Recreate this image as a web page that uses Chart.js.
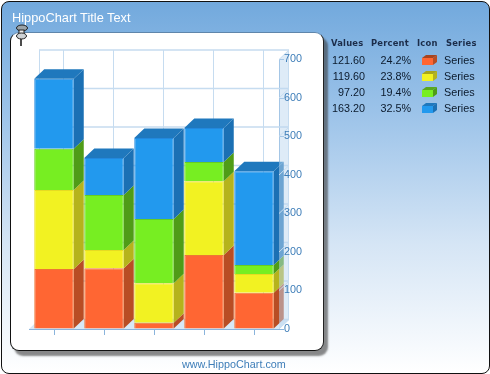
<!DOCTYPE html>
<html>
<head>
<meta charset="utf-8">
<script src="https://cdn.jsdelivr.net/npm/chart.js@4"></script>
<style>
  html, body { margin: 0; padding: 0; background: #fff; overflow: hidden; }
  #page {
    position: absolute; left: 1px; top: 1px; width: 487px; height: 371px;
    border: 1px solid #111; border-radius: 8px;
    background: linear-gradient(to bottom, #72a9dd 0%, #9cc3e9 30%, #d5e5f5 65%, #ffffff 100%);
  }
  #panel {
    position: absolute; left: 10px; top: 32px; width: 312px; height: 317px;
    background: #fff; border: 1px solid #111; border-top-color: #5f86ab; border-right-color: #222;
    border-radius: 9px; box-shadow: 4px 5px 2px rgba(60,60,60,.6);
  }
  canvas { position: absolute; left: 0; top: 0; }
  .txt { position: absolute; font-family: "Liberation Sans", sans-serif; white-space: nowrap; line-height: 14px; }
  #title { left: 12px; top: 11px; font-size: 12.8px; color: #fff; }
  #footer { left: 182px; top: 357px; font-size: 10.8px; color: #3d7db8; }
  .head { font-family: "DejaVu Sans", sans-serif; font-size: 8.4px; font-weight: bold; color: #1c2d4a; letter-spacing: .2px; }
  .row { font-size: 10.8px; color: #0b1a2c; }
  #pin { position: absolute; left: 13px; top: 24px; }
</style>
</head>
<body>
<div id="page"></div>
<div id="panel"></div>
<canvas id="chart" width="490" height="374"></canvas>
<svg id="pin" width="16" height="24" viewBox="0 0 16 24">
  <line x1="8" y1="14" x2="8" y2="22" stroke="#111" stroke-width="1.5"/>
  <ellipse cx="9" cy="4" rx="5.5" ry="3" fill="#9aa3a8" stroke="#222"/>
  <rect x="6" y="6" width="5" height="5" fill="#eee" stroke="#222"/>
  <ellipse cx="8.5" cy="12" rx="5" ry="3" fill="#cfd3d6" stroke="#222"/>
</svg>
<div class="txt" id="title">HippoChart Title Text</div>
<div class="txt" id="footer">www.HippoChart.com</div>
<div id="legend"></div>
<script>
const categories = ['1', '2', '3', '4', '5'];
const seriesNames = ['Series', 'Series', 'Series', 'Series'];

const orangeValues = [156, 158, 16, 192, 94];
const yellowValues = [205, 47, 103, 192, 49];
const greenValues = [107, 143, 167, 50, 23];
const blueValues = [182, 96, 210, 88, 244];

const legendHeads = ['Values', 'Percent', 'Icon', 'Series'];
const legendValues = ['121.60', '119.60', '97.20', '163.20'];
const legendPercents = ['24.2%', '23.8%', '19.4%', '32.5%'];

const frontColors = ['#ff6633', '#f2f222', '#77ee22', '#2299ee'];
const sideColors = ['#b84d24', '#b5b31c', '#4f9c17', '#1b70b4'];
const topColors = ['#a8441f', '#a8a61a', '#5aa81c', '#1f78bd'];
const edgeColors = ['#ee7733', '#e6dc22', '#66cc22', '#2288dd'];

const depthX = 10;
const depthY = 9.5;
const wallLine = '#c6dcf0';
const axisColor = '#8ab4dc';

function poly(ctx, pts, fill) {
  ctx.beginPath();
  pts.forEach((p, i) => i ? ctx.lineTo(p[0], p[1]) : ctx.moveTo(p[0], p[1]));
  ctx.closePath();
  ctx.fillStyle = fill;
  ctx.fill();
}

// Mur du fond, sol et grille décalés en profondeur
const wallsPlugin = {
  id: 'walls',
  beforeDatasetsDraw(chart) {
    const ctx = chart.ctx;
    const { x, y } = chart.scales;
    const left = x.left, right = x.right, bottom = y.getPixelForValue(0), top = y.getPixelForValue(700);
    ctx.save();
    poly(ctx, [[left, bottom], [right, bottom], [right + depthX, bottom - depthY], [left + depthX, bottom - depthY]], '#d8e8f6');
    ctx.strokeStyle = wallLine;
    ctx.lineWidth = 1;
    ctx.beginPath();
    ctx.moveTo(Math.round(left + depthX) + .5, top - depthY);
    ctx.lineTo(Math.round(left + depthX) + .5, bottom - depthY);
    categories.forEach((c, i) => {
      const px = Math.round(x.getPixelForValue(i) + depthX) - .5;
      ctx.moveTo(px, top - depthY);
      ctx.lineTo(px, bottom - depthY);
    });
    ctx.stroke();
    ctx.lineWidth = 1.5;
    ctx.beginPath();
    y.ticks.forEach(t => {
      const py = y.getPixelForValue(t.value) - depthY;
      ctx.moveTo(left + depthX, py);
      ctx.lineTo(right + depthX, py);
    });
    ctx.stroke();

    // Faces latérales et dessus des barres
    const metas = chart.getSortedVisibleDatasetMetas();
    categories.forEach((c, i) => {
      metas.forEach((meta, s) => {
        const bar = meta.data[i];
        const r = bar.x + bar.width / 2;
        poly(ctx, [[r, bar.y], [r + depthX, bar.y - depthY], [r + depthX, bar.base - depthY], [r, bar.base]], sideColors[s]);
      });
      const last = metas.length - 1;
      const bar = metas[last].data[i];
      const l = bar.x - bar.width / 2, r = bar.x + bar.width / 2;
      poly(ctx, [[l, bar.y], [r, bar.y], [r + depthX, bar.y - depthY], [l + depthX, bar.y - depthY]], topColors[last]);
    });
    ctx.restore();
  },
  afterDatasetsDraw(chart) {
    // Mur de droite translucide, par-dessus les barres
    const ctx = chart.ctx;
    const { x, y } = chart.scales;
    const right = x.right, bottom = y.getPixelForValue(0), top = y.getPixelForValue(700);
    ctx.save();
    poly(ctx, [[right, bottom], [right + depthX, bottom - depthY], [right + depthX, top - depthY], [right, top]], 'rgba(190,215,240,.5)');
    ctx.strokeStyle = wallLine;
    ctx.lineWidth = 1;
    ctx.beginPath();
    y.ticks.forEach(t => {
      const py = y.getPixelForValue(t.value);
      ctx.moveTo(right, py);
      ctx.lineTo(right + depthX, py - depthY);
    });
    ctx.moveTo(right + depthX - .5, top - depthY);
    ctx.lineTo(right + depthX - .5, bottom - depthY);
    ctx.stroke();

    // Icônes de la légende
    const iconRows = [60, 76, 92, 108];
    iconRows.forEach((cy, s) => {
      poly(ctx, [[422, cy - 2], [433, cy - 2], [433, cy + 5], [422, cy + 5]], frontColors[s]);
      poly(ctx, [[433, cy - 2], [437, cy - 5], [437, cy + 2], [433, cy + 5]], sideColors[s]);
      poly(ctx, [[422, cy - 2], [426, cy - 5], [437, cy - 5], [433, cy - 2]], topColors[s]);
    });
    ctx.restore();
  }
};

const datasets = [orangeValues, yellowValues, greenValues, blueValues].map((values, s) => ({
  label: seriesNames[s],
  data: values,
  backgroundColor: frontColors[s],
  borderColor: edgeColors[s],
  borderWidth: 1,
  barPercentage: 0.79,
  categoryPercentage: 1
}));

new Chart(document.getElementById('chart'), {
  type: 'bar',
  data: { labels: categories, datasets: datasets },
  plugins: [wallsPlugin],
  options: {
    responsive: false,
    animation: false,
    layout: { padding: { left: 29, top: 59.5, right: 181, bottom: 39 } },
    plugins: { legend: { display: false }, title: { display: false }, tooltip: { enabled: false } },
    scales: {
      x: {
        stacked: true,
        afterFit: s => { s.height = 6; },
        ticks: { display: false },
        grid: { offset: false, drawOnChartArea: false, color: axisColor, tickLength: 6 },
        border: { color: axisColor }
      },
      y: {
        stacked: true,
        position: 'right',
        min: 0,
        max: 700,
        afterFit: s => { s.width = 30; },
        ticks: {
          stepSize: 100,
          padding: 0,
          z: 1,
          color: '#3d7db8',
          font: { family: 'Liberation Sans', size: 10.8 }
        },
        grid: { drawOnChartArea: false, color: axisColor, tickLength: 5 },
        border: { color: axisColor }
      }
    }
  }
});

// Légende en texte HTML
const legend = document.getElementById('legend');
function addText(cls, text, style) {
  const el = document.createElement('div');
  el.className = 'txt ' + cls;
  el.textContent = text;
  Object.assign(el.style, style);
  legend.appendChild(el);
}
const headLefts = [331, 371, 417, 446];
legendHeads.forEach((h, i) => addText('head', h, { left: headLefts[i] + 'px', top: '36px' }));
legendValues.forEach((v, i) => {
  const rowTop = 53 + i * 16 + 'px';
  addText('row', v, { right: 490 - 365 + 'px', top: rowTop });
  addText('row', legendPercents[i], { right: 490 - 411 + 'px', top: rowTop });
  addText('row', seriesNames[i], { left: '444px', top: rowTop });
});
</script>
</body>
</html>
